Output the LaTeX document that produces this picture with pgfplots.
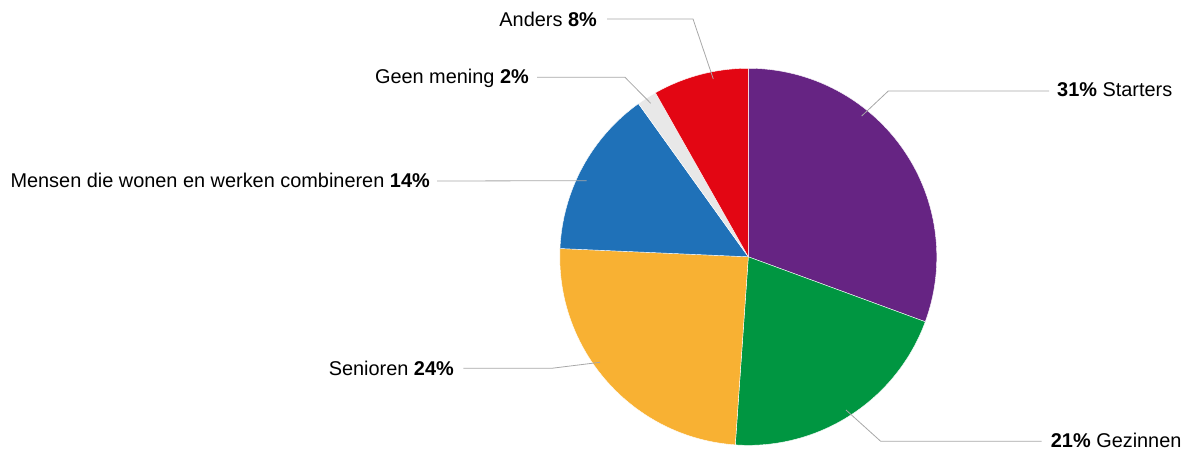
\documentclass[border=0pt]{standalone}
\usepackage{pgfplots}
\pgfplotsset{compat=1.18}
\usepackage{fontspec}
\setmainfont{Liberation Sans}
\definecolor{cStart}{HTML}{662483}
\definecolor{cGez}{HTML}{009641}
\definecolor{cSen}{HTML}{F8B133}
\definecolor{cMen}{HTML}{1F71B8}
\definecolor{cGeen}{HTML}{E8E8E8}
\definecolor{cAnd}{HTML}{E30613}
\definecolor{cLine}{HTML}{A8A8A8}
\begin{document}
\begin{tikzpicture}
\begin{axis}[
  width=1184bp, height=453bp, scale only axis,
  xmin=0, xmax=1184, ymin=0, ymax=453,
  hide axis, clip=false,
]
\path (axis cs:0,0) rectangle (axis cs:1184,453);
% pie: share in percent, clockwise from the top
\pgfplotsextra{
  \gdef\cum{0}
  \foreach \v/\c in {30.6/cStart, 20.5/cGez, 24.6/cSen, 14.4/cMen, 1.7/cGeen, 8.2/cAnd}{
    \pgfmathsetmacro\sa{90-3.6*\cum}
    \pgfmathsetmacro\da{-3.6*\v}
    \fill[\c, draw=white, line width=0.4bp, line join=round]
      (axis cs:748.3,196.2) -- ++(\sa:188.5bp)
      arc[start angle=\sa, delta angle=\da, radius=188.5bp] -- cycle;
    \pgfmathsetmacro\n{\cum+\v}
    \xdef\cum{\n}
  }
}
\begin{scope}[every node/.style={inner sep=0pt, font=\fontsize{19.9bp}{23bp}\selectfont}]
\draw[cLine, line width=0.8bp] (axis cs:861.7,337) -- (axis cs:888.3,362) -- (axis cs:1049,362);
\node[anchor=base west] at (axis cs:1057,356.3) {\textbf{31\%} Starters};
\draw[cLine, line width=0.8bp] (axis cs:846,43) -- (axis cs:880.7,11.7) -- (axis cs:1041.7,11.7);
\node[anchor=base west] at (axis cs:1050.7,5.3) {\textbf{21\%} Gezinnen};
\draw[cLine, line width=0.8bp] (axis cs:600,90.7) -- (axis cs:551.7,84.7) -- (axis cs:463.3,84.7);
\node[anchor=base east] at (axis cs:454,78) {Senioren \textbf{24\%}};
\draw[cLine, line width=0.8bp] (axis cs:586.7,272.3) -- (axis cs:437,272);
\node[anchor=base east] at (axis cs:430,265) {Mensen die wonen en werken combineren \textbf{14\%}};
\draw[cLine, line width=0.8bp] (axis cs:650.7,349.7) -- (axis cs:625,375.7) -- (axis cs:537,375.7);
\node[anchor=base east] at (axis cs:529,369) {Geen mening \textbf{2\%}};
\draw[cLine, line width=0.8bp] (axis cs:713.3,374) -- (axis cs:693,434) -- (axis cs:607,434);
\node[anchor=base east] at (axis cs:597,426.5) {Anders \textbf{8\%}};
\end{scope}
\end{axis}
\end{tikzpicture}
\end{document}
